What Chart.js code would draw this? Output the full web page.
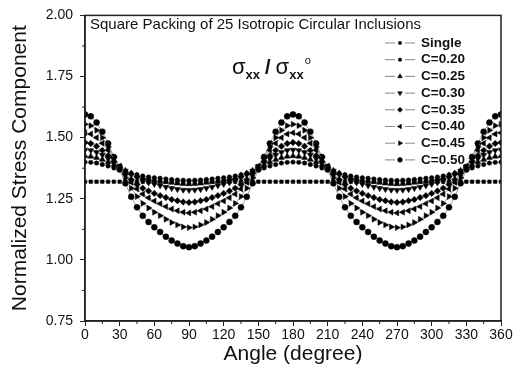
<!DOCTYPE html>
<html>
<head>
<meta charset="utf-8">
<script src="https://cdn.jsdelivr.net/npm/chart.js@4/dist/chart.umd.min.js"></script>
<style>
html, body { margin: 0; padding: 0; background: #fff; }
</style>
</head>
<body>
<canvas id="grafico" width="526" height="376"></canvas>
<script>
// angle (degree), step 5
var angulos = [0,5,10,15,20,25,30,35,40,45,50,55,60,65,70,75,80,85,90,
    95,100,105,110,115,120,125,130,135,140,145,150,155,160,165,170,175,180,
    185,190,195,200,205,210,215,220,225,230,235,240,245,250,255,260,265,270,
    275,280,285,290,295,300,305,310,315,320,325,330,335,340,345,350,355,360];

var single = [1.32,1.32,1.32,1.32,1.32,1.32,1.32,1.32,1.32,1.32,1.32,1.32,1.32,1.32,1.32,1.32,1.32,1.32,1.32,
    1.32,1.32,1.32,1.32,1.32,1.32,1.32,1.32,1.32,1.32,1.32,1.32,1.32,1.32,1.32,1.32,1.32,1.32,
    1.32,1.32,1.32,1.32,1.32,1.32,1.32,1.32,1.32,1.32,1.32,1.32,1.32,1.32,1.32,1.32,1.32,1.32,
    1.32,1.32,1.32,1.32,1.32,1.32,1.32,1.32,1.32,1.32,1.32,1.32,1.32,1.32,1.32,1.32,1.32,1.32];

var c20 = [1.400,1.399,1.396,1.390,1.384,1.376,1.369,1.361,1.354,1.348,1.343,1.339,1.336,1.334,1.331,1.329,1.327,1.326,1.325,
    1.326,1.327,1.329,1.331,1.334,1.336,1.339,1.343,1.348,1.354,1.361,1.369,1.376,1.384,1.390,1.396,1.399,1.400,
    1.399,1.396,1.390,1.384,1.376,1.369,1.361,1.354,1.348,1.343,1.339,1.336,1.334,1.331,1.329,1.327,1.326,1.325,
    1.326,1.327,1.329,1.331,1.334,1.336,1.339,1.343,1.348,1.354,1.361,1.369,1.376,1.384,1.390,1.396,1.399,1.400];

var c25 = [1.425,1.423,1.418,1.410,1.400,1.388,1.377,1.365,1.354,1.345,1.337,1.332,1.327,1.323,1.319,1.316,1.313,1.311,1.310,
    1.311,1.313,1.316,1.319,1.323,1.327,1.332,1.337,1.345,1.354,1.365,1.377,1.388,1.400,1.410,1.418,1.423,1.425,
    1.423,1.418,1.410,1.400,1.388,1.377,1.365,1.354,1.345,1.337,1.332,1.327,1.323,1.319,1.316,1.313,1.311,1.310,
    1.311,1.313,1.316,1.319,1.323,1.327,1.332,1.337,1.345,1.354,1.365,1.377,1.388,1.400,1.410,1.418,1.423,1.425];

var c30 = [1.450,1.448,1.440,1.429,1.414,1.397,1.382,1.364,1.348,1.335,1.324,1.316,1.310,1.304,1.298,1.293,1.289,1.286,1.285,
    1.286,1.289,1.293,1.298,1.304,1.310,1.316,1.324,1.335,1.348,1.364,1.382,1.397,1.414,1.429,1.440,1.448,1.450,
    1.448,1.440,1.429,1.414,1.397,1.382,1.364,1.348,1.335,1.324,1.316,1.310,1.304,1.298,1.293,1.289,1.286,1.285,
    1.286,1.289,1.293,1.298,1.304,1.310,1.316,1.324,1.335,1.348,1.364,1.382,1.397,1.414,1.429,1.440,1.448,1.450];

var c35 = [1.480,1.476,1.465,1.448,1.426,1.402,1.378,1.353,1.328,1.309,1.293,1.282,1.272,1.263,1.255,1.247,1.242,1.237,1.235,
    1.237,1.242,1.247,1.255,1.263,1.272,1.282,1.293,1.309,1.328,1.353,1.378,1.402,1.426,1.448,1.465,1.476,1.480,
    1.476,1.465,1.448,1.426,1.402,1.378,1.353,1.328,1.309,1.293,1.282,1.272,1.263,1.255,1.247,1.242,1.237,1.235,
    1.237,1.242,1.247,1.255,1.263,1.272,1.282,1.293,1.309,1.328,1.353,1.378,1.402,1.426,1.448,1.465,1.476,1.480];

var c40 = [1.520,1.515,1.500,1.477,1.448,1.415,1.384,1.349,1.317,1.290,1.269,1.254,1.241,1.230,1.218,1.208,1.201,1.195,1.192,
    1.195,1.201,1.208,1.218,1.230,1.241,1.254,1.269,1.290,1.317,1.349,1.384,1.415,1.448,1.477,1.500,1.515,1.520,
    1.515,1.500,1.477,1.448,1.415,1.384,1.349,1.317,1.290,1.269,1.254,1.241,1.230,1.218,1.208,1.201,1.195,1.192,
    1.195,1.201,1.208,1.218,1.230,1.241,1.254,1.269,1.290,1.317,1.349,1.384,1.415,1.448,1.477,1.500,1.515,1.520];

var c45 = [1.555,1.549,1.530,1.500,1.462,1.420,1.379,1.335,1.293,1.259,1.231,1.212,1.195,1.181,1.166,1.153,1.143,1.135,1.132,
    1.135,1.143,1.153,1.166,1.181,1.195,1.212,1.231,1.259,1.293,1.335,1.379,1.420,1.462,1.500,1.530,1.549,1.555,
    1.549,1.530,1.500,1.462,1.420,1.379,1.335,1.293,1.259,1.231,1.212,1.195,1.181,1.166,1.153,1.143,1.135,1.132,
    1.135,1.143,1.153,1.166,1.181,1.195,1.212,1.231,1.259,1.293,1.335,1.379,1.420,1.462,1.500,1.530,1.549,1.555];

var c50 = [1.595,1.587,1.562,1.524,1.476,1.421,1.370,1.313,1.258,1.215,1.180,1.155,1.133,1.114,1.095,1.079,1.067,1.056,1.052,
    1.056,1.067,1.079,1.095,1.114,1.133,1.155,1.180,1.215,1.258,1.313,1.370,1.421,1.476,1.524,1.562,1.587,1.595,
    1.587,1.562,1.524,1.476,1.421,1.370,1.313,1.258,1.215,1.180,1.155,1.133,1.114,1.095,1.079,1.067,1.056,1.052,
    1.056,1.067,1.079,1.095,1.114,1.133,1.155,1.180,1.215,1.258,1.313,1.370,1.421,1.476,1.524,1.562,1.587,1.595];

var nomes = ['Single', 'C=0.20', 'C=0.25', 'C=0.30', 'C=0.35', 'C=0.40', 'C=0.45', 'C=0.50'];
var series = [single, c20, c25, c30, c35, c40, c45, c50];

var xMenores = [15, 45, 75, 105, 135, 165, 195, 225, 255, 285, 315, 345];
var yMenores = [0.875, 1.125, 1.375, 1.625, 1.875];

// marker styles per series
var marcadores = ['rect', 'circle', 'triangle', 'triangle', 'rectRot', 'triangle', 'triangle', 'circle'];
var rotacoes = [0, 0, 0, 180, 0, -90, 90, 0];
var raios = [2.5, 2.2, 3.4, 3.4, 3.2, 3.4, 3.4, 3];

function pontos(v) {
    var p = [];
    for (let i = 0; i < angulos.length; i++) {
        p.push({ x: angulos[i], y: v[i] });
    }
    return p;
}

var datasets = [];
for (let k = 0; k < series.length; k++) {
    datasets.push({
        label: nomes[k],
        data: pontos(series[k]),
        borderColor: '#777',
        borderWidth: 0.7,
        pointStyle: marcadores[k],
        rotation: rotacoes[k],
        pointRadius: raios[k],
        pointBackgroundColor: '#000',
        pointBorderColor: '#000',
        pointBorderWidth: 0.5,
        tension: 0,
        fill: false
    });
}

function linha(ctx, x1, y1, x2, y2) {
    ctx.beginPath();
    ctx.moveTo(x1, y1);
    ctx.lineTo(x2, y2);
    ctx.stroke();
}

var extras = {
    id: 'extras',
    afterDraw: function (chart) {
        var ctx = chart.ctx, a = chart.chartArea;
        var sx = chart.scales.x, sy = chart.scales.y;
        ctx.save();

        // frame
        ctx.strokeStyle = '#222';
        ctx.lineWidth = 1.5;
        ctx.strokeRect(a.left, a.top, a.right - a.left, a.bottom - a.top);

        // minor ticks
        ctx.lineWidth = 1;
        xMenores.forEach(function (v) {
            var px = sx.getPixelForValue(v);
            linha(ctx, px, a.bottom, px, a.bottom + 3);
        });
        yMenores.forEach(function (v) {
            var py = sy.getPixelForValue(v);
            linha(ctx, a.left - 3, py, a.left, py);
        });

        // title inside
        ctx.fillStyle = '#111';
        ctx.textBaseline = 'middle';
        ctx.textAlign = 'left';
        ctx.font = '15px Arial, "Liberation Sans"';
        ctx.fillText('Square Packing of 25 Isotropic Circular Inclusions', 90, 25);

        // sigma_xx / sigma_xx^o
        var xx = 232, yb = 74;
        ctx.textBaseline = 'alphabetic';
        ctx.font = '22px Arial, "Liberation Sans"';
        ctx.fillText('σ', xx, yb);
        xx += ctx.measureText('σ').width;
        ctx.font = 'bold 13px Arial, "Liberation Sans"';
        ctx.fillText('xx', xx, yb + 5);
        xx += ctx.measureText('xx').width + 5;
        ctx.font = 'bold 20px Arial, "Liberation Sans"';
        ctx.fillText('/', xx, yb);
        xx += ctx.measureText('/').width + 5;
        ctx.font = '22px Arial, "Liberation Sans"';
        ctx.fillText('σ', xx, yb);
        xx += ctx.measureText('σ').width;
        ctx.font = 'bold 13px Arial, "Liberation Sans"';
        ctx.fillText('xx', xx, yb + 5);
        xx += ctx.measureText('xx').width + 1;
        ctx.font = '11px Arial, "Liberation Sans"';
        ctx.fillText('o', xx, yb - 10);

        // legend
        ctx.textBaseline = 'middle';
        ctx.font = 'bold 13.5px Arial, "Liberation Sans"';
        for (let k = 0; k < nomes.length; k++) {
            var ly = 43 + k * 16.7;
            ctx.strokeStyle = '#888';
            ctx.lineWidth = 1;
            linha(ctx, 385, ly, 395, ly);
            linha(ctx, 405, ly, 415, ly);
            ctx.fillStyle = '#000';
            ctx.strokeStyle = '#000';
            ctx.lineWidth = 0.5;
            Chart.helpers.drawPoint(ctx, {
                pointStyle: marcadores[k],
                rotation: rotacoes[k],
                radius: raios[k] * 0.8,
                borderWidth: 0.5
            }, 400, ly);
            ctx.fillStyle = '#111';
            ctx.fillText(nomes[k], 421, ly);
        }
        ctx.restore();
    }
};

var canvas = document.getElementById('grafico');
var grafico = new Chart(canvas, {
    type: 'line',
    data: { datasets: datasets },
    options: {
        responsive: false,
        animation: false,
        devicePixelRatio: 1,
        layout: { padding: { top: 13, right: 25, left: 0, bottom: 0 } },
        plugins: {
            legend: { display: false },
            tooltip: { enabled: false }
        },
        scales: {
            x: {
                type: 'linear',
                min: 0,
                max: 360,
                afterFit: function (s) { s.height = 55; },
                ticks: {
                    stepSize: 30,
                    maxRotation: 0,
                    padding: 1,
                    color: '#111',
                    font: { family: 'Arial, "Liberation Sans"', size: 14 }
                },
                grid: { display: true, drawOnChartArea: false, tickLength: 5, color: '#222', lineWidth: 1 },
                border: { display: true, color: '#222', width: 1.5 },
                title: {
                    display: true,
                    text: 'Angle (degree)',
                    color: '#111',
                    font: { family: 'Arial, "Liberation Sans"', size: 21 },
                    padding: { top: 0, bottom: 9 }
                }
            },
            y: {
                min: 0.75,
                max: 2.0,
                afterFit: function (s) { s.width = 85; },
                ticks: {
                    stepSize: 0.25,
                    padding: 7,
                    color: '#111',
                    font: { family: 'Arial, "Liberation Sans"', size: 14 },
                    callback: function (v) { return v.toFixed(2); }
                },
                grid: { display: true, drawOnChartArea: false, tickLength: 5, color: '#222', lineWidth: 1 },
                border: { display: true, color: '#222', width: 1.5 },
                title: {
                    display: true,
                    text: 'Normalized Stress Component',
                    color: '#111',
                    font: { family: 'Arial, "Liberation Sans"', size: 21 },
                    padding: { top: 8, bottom: 0 }
                }
            }
        }
    },
    plugins: [extras]
});
</script>
</body>
</html>
